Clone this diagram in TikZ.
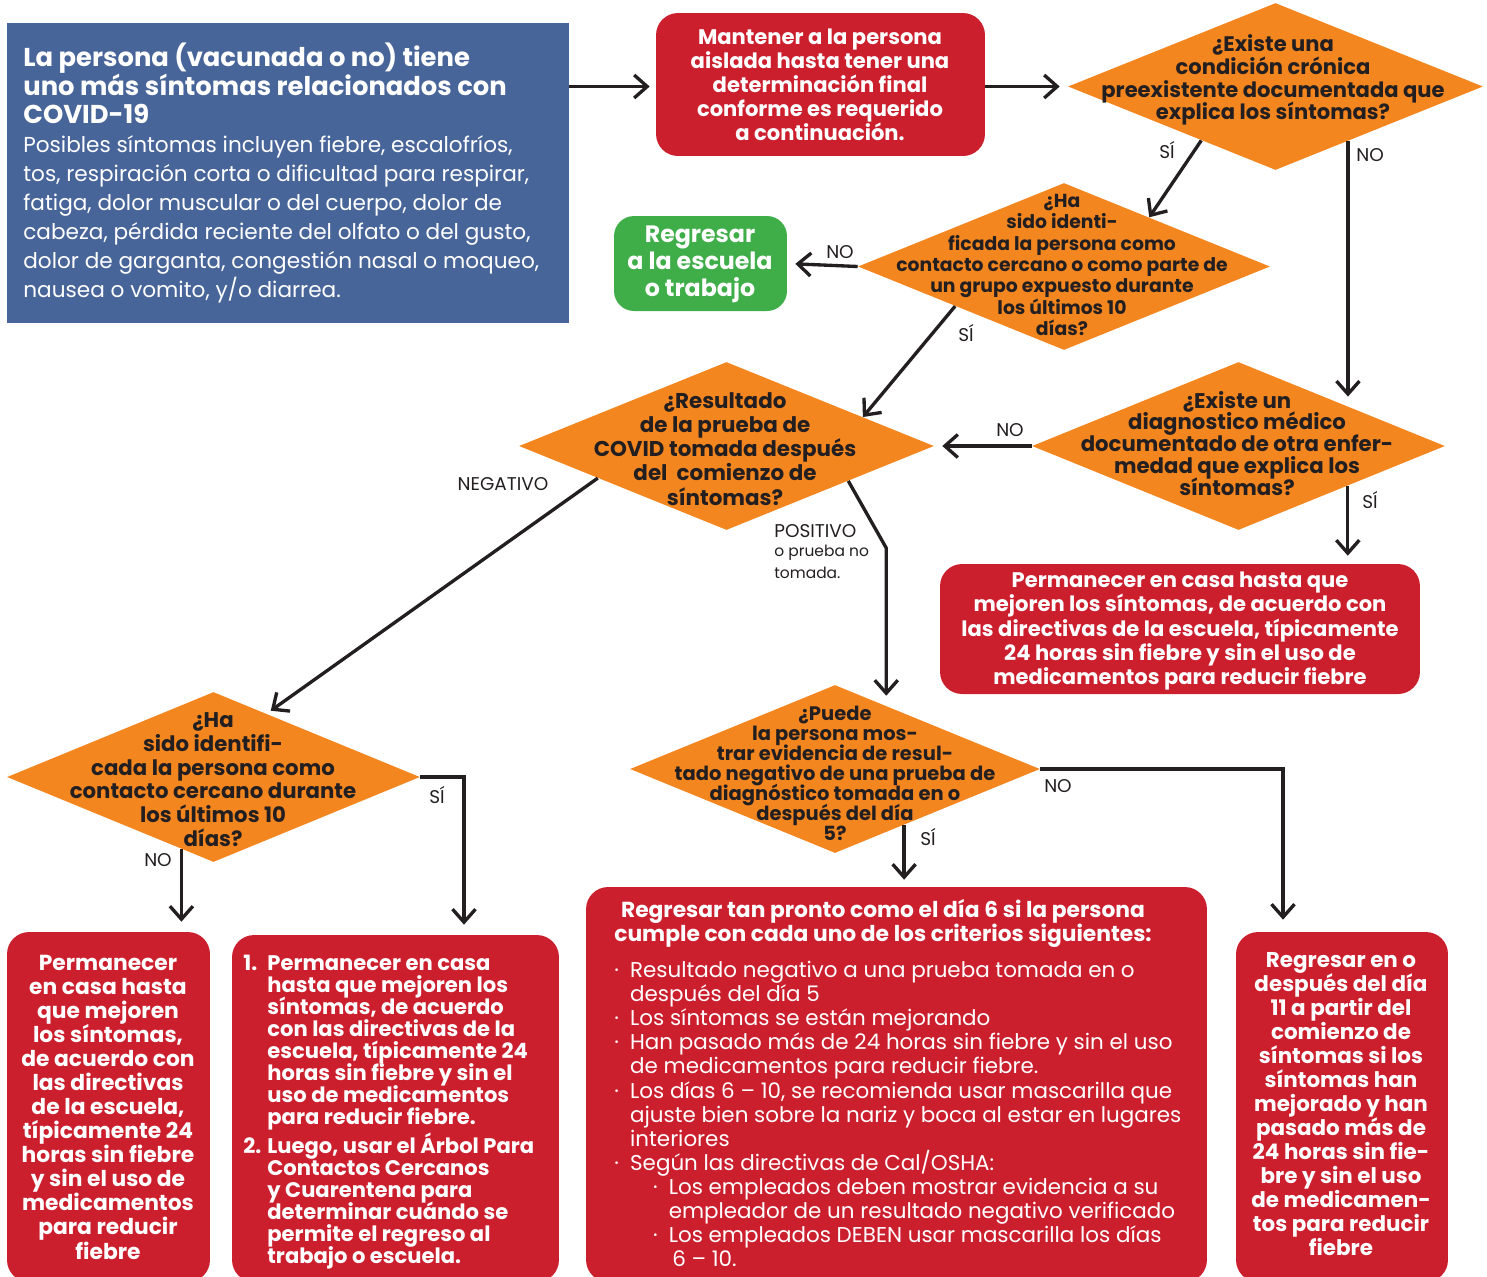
\documentclass[tikz,border=0pt]{standalone}
\usepackage{fontspec}
\setmainfont{Poppins}
\usetikzlibrary{arrows.meta,shapes.geometric}

\definecolor{cvblue}{RGB}{72,101,154}
\definecolor{cvred}{RGB}{204,31,46}
\definecolor{cvorange}{RGB}{244,134,32}
\definecolor{cvgreen}{RGB}{63,174,73}
\definecolor{ink}{RGB}{35,31,32}

\newcommand{\bul}{\makebox[9pt][l]{\textperiodcentered}}

\begin{document}
\begin{tikzpicture}[
    x=0.02cm, y=-0.02cm,
    every node/.style={inner sep=0pt, execute at begin node={\lineskiplimit=-10pt}},
    wtxt/.style={align=center, text=white},
    dtxt/.style={align=center, text=ink},
    redbox/.style={fill=cvred, rounded corners=0.44cm},
    dia/.style={diamond, fill=cvorange},
    arr/.style={draw=ink, line width=1.9pt, -{Straight Barb[length=2.6mm,width=4.6mm]}},
    lbl/.style={text=ink, font=\fontsize{10.5}{12}\selectfont}
]
\useasboundingbox (0,0) rectangle (1487,1276);

% Start box
\node[fill=cvblue, minimum width=11.24cm, minimum height=6cm] (start) at (288,173) {};
\node[anchor=north west, align=left, text=white, font=\bfseries\fontsize{14.7}{16}\selectfont] (starttitle) at (23,43)
    {La persona (vacunada o no) tiene\\uno más síntomas relacionados con\\COVID-19};
\node[anchor=north west, align=left, text=white, font=\fontsize{12.3}{16.5}\selectfont] (startbody) at (23,135)
    {Posibles síntomas incluyen fiebre, escalofríos,\\tos, respiración corta o dificultad para respirar,\\fatiga, dolor muscular o del cuerpo, dolor de\\cabeza, pérdida reciente del olfato o del gusto,\\dolor de garganta, congestión nasal o moqueo,\\nausea o vomito, y/o diarrea.};

% Isolate box
\node[redbox, minimum width=6.58cm, minimum height=2.86cm] (isolate) at (820.5,84.5) {};
\node[wtxt, font=\bfseries\fontsize{12}{13.7}\selectfont] (isolatet) at (820,85)
    {Mantener a la persona\\aislada hasta tener una\\determinación final\\conforme es requerido\\a continuación.};

% Questions
\node[dia, minimum width=8.3cm, minimum height=3.34cm] (chronic) at (1275.5,86.5) {};
\node[dtxt, font=\bfseries\fontsize{12}{13}\selectfont] (chronict) at (1273,80)
    {¿Existe una\\condición crónica\\preexistente documentada que\\explica los síntomas?};

\node[dia, minimum width=8.24cm, minimum height=3.34cm] (contact) at (1064,266.5) {};
\node[dtxt, font=\bfseries\fontsize{10.7}{12.2}\selectfont] (contactt) at (1062,265)
    {¿Ha\\sido identi-\\ficada la persona como\\contacto cercano o como parte de\\un grupo expuesto durante\\los últimos 10\\días?};

\node[fill=cvgreen, rounded corners=0.4cm, minimum width=3.46cm, minimum height=1.9cm] (back) at (700.5,263.5) {};
\node[wtxt, font=\bfseries\fontsize{13.5}{15.4}\selectfont] (backt) at (700,264)
    {Regresar\\a la escuela\\o trabajo};

\node[dia, minimum width=8.3cm, minimum height=3.36cm] (test) at (726.5,446) {};
\node[dtxt, font=\bfseries\fontsize{12.2}{13.7}\selectfont] (testt) at (725,449)
    {¿Resultado\\de la prueba de\\COVID tomada después\\del~ comienzo de\\síntomas?};

\node[dia, minimum width=8.26cm, minimum height=3.36cm] (diagnosis) at (1238.5,446) {};
\node[dtxt, font=\bfseries\fontsize{12.1}{12.5}\selectfont] (diagnosist) at (1237,443.5)
    {¿Existe un\\diagnostico médico\\documentado de otra enfer-\\medad que explica los\\síntomas?};

\node[redbox, minimum width=9.6cm, minimum height=2.6cm] (home) at (1180,629) {};
\node[wtxt, font=\bfseries\fontsize{12}{13.7}\selectfont] (homet) at (1180,631)
    {Permanecer en casa hasta que\\mejoren los síntomas, de acuerdo con\\las directivas de la escuela, típicamente\\24 horas sin fiebre y sin el uso de\\medicamentos para reducir fiebre};

\node[dia, minimum width=8.26cm, minimum height=3.4cm] (contactB) at (213.5,777) {};
\node[dtxt, font=\bfseries\fontsize{12.1}{13.5}\selectfont] (contactBt) at (213,779.5)
    {¿Ha\\sido identifi-\\cada la persona como\\contacto cercano durante\\los últimos 10\\días?};

\node[dia, minimum width=8.2cm, minimum height=3.36cm] (negtest) at (835,769) {};
\node[dtxt, font=\bfseries\fontsize{11.1}{11.4}\selectfont] (negtestt) at (835,773)
    {¿Puede\\la persona mos-\\trar evidencia de resul-\\tado negativo de una prueba de\\diagnóstico tomada en o\\después del día\\5?};

% Bottom boxes
\node[redbox, minimum width=4.06cm, minimum height=7cm] (homeA) at (108.5,1107) {};
\node[wtxt, font=\bfseries\fontsize{12.4}{13.7}\selectfont] (homeAt) at (108,1107)
    {Permanecer\\en casa hasta\\que mejoren\\los síntomas,\\de acuerdo con\\las directivas\\de la escuela,\\típicamente 24\\horas sin fiebre\\y sin el uso de\\medicamentos\\para reducir\\fiebre};

\node[redbox, minimum width=6.54cm, minimum height=6.94cm] (steps) at (395.5,1108.5) {};
\node[anchor=north west, align=left, text=white, font=\bfseries\fontsize{12}{12.5}\selectfont] (stepst) at (243,955)
    {\makebox[13.7pt][l]{1.}Permanecer en casa\\
     \hspace*{13.7pt}hasta que mejoren los\\
     \hspace*{13.7pt}síntomas, de acuerdo\\
     \hspace*{13.7pt}con las directivas de la\\
     \hspace*{13.7pt}escuela, típicamente 24\\
     \hspace*{13.7pt}horas sin fiebre y sin el\\
     \hspace*{13.7pt}uso de medicamentos\\
     \hspace*{13.7pt}para reducir fiebre.\\[4pt]
     \makebox[13.7pt][l]{2.}Luego, usar el Árbol Para\\
     \hspace*{13.7pt}Contactos Cercanos\\
     \hspace*{13.7pt}y Cuarentena para\\
     \hspace*{13.7pt}determinar cuándo se\\
     \hspace*{13.7pt}permite el regreso al\\
     \hspace*{13.7pt}trabajo o escuela.};

\node[redbox, minimum width=12.42cm, minimum height=7.9cm] (day6) at (896.5,1084.5) {};
\node[wtxt, font=\bfseries\fontsize{12.4}{13.7}\selectfont] (day6t) at (883,923)
    {Regresar tan pronto como el día 6 si la persona\\cumple con cada uno de los criterios siguientes:};
\node[anchor=north west, align=left, text=white, font=\fontsize{12.2}{13.7}\selectfont] (day6list) at (614,961)
    {\bul Resultado negativo a una prueba tomada en o\\
     \hspace*{9pt}después del día 5\\
     \bul Los síntomas se están mejorando\\
     \bul Han pasado más de 24 horas sin fiebre y sin el uso\\
     \hspace*{9pt}de medicamentos para reducir fiebre.\\
     \bul Los días 6 – 10, se recomienda usar mascarilla que\\
     \hspace*{9pt}ajuste bien sobre la nariz y boca al estar en lugares\\
     \hspace*{9pt}interiores\\
     \bul Según las directivas de Cal/OSHA:\\
     \hspace*{22pt}\bul Los empleados deben mostrar evidencia a su\\
     \hspace*{31pt}empleador de un resultado negativo verificado\\
     \hspace*{22pt}\bul Los empleados DEBEN usar mascarilla los días\\
     \hspace*{33pt}6 – 10.};

\node[redbox, minimum width=4.24cm, minimum height=7cm] (day11) at (1342,1107) {};
\node[wtxt, font=\bfseries\fontsize{12.2}{13.7}\selectfont] (day11t) at (1341,1104)
    {Regresar en o\\después del día\\11 a partir del\\comienzo de\\síntomas si los\\síntomas han\\mejorado y han\\pasado más de\\24 horas sin fie-\\bre y sin el uso\\de medicamen-\\tos para reducir\\fiebre};

% Connectors
\draw[arr, shorten >=0.12cm] (start.east |- chronic.west) -- (isolate.west |- chronic.west);
\draw[arr, shorten >=0.16cm] (isolate.east |- chronic.west) -- (chronic.west);
\draw[arr] (chronic.216) -- (contact.30);
\draw[arr] (chronic.-37) -- (chronic.-37 |- diagnosis.30);
\draw[arr, shorten >=0.16cm] (contact.west) -- (back.east);
\draw[arr] (contact.200) -- (test.12);
\draw[arr, shorten >=0.16cm] (diagnosis.west) -- (test.east);
\draw[arr, shorten >=0.16cm] (diagnosis.-20.2) -- (diagnosis.-20.2 |- home.north);
\draw[arr, shorten >=0.1cm] (test.194) -- (contactB.50);
\draw[arr, shorten >=0.2cm] (test.-16.5) -- (negtest.51 |- 0,548) -- (negtest.51);
\draw[arr, shorten >=0.2cm] (contactB.east) -| ([xshift=1.37cm]steps.north);
\draw[arr, shorten >=0.2cm] (contactB.246.4) -- (contactB.246.4 |- homeA.north);
\draw[arr, shorten >=0.14cm] (negtest.-39.5) -- (negtest.-39.5 |- day6.north);
\draw[arr, shorten >=0.24cm] (negtest.east) -| ([xshift=-1.18cm]day11.north);

% Labels
\node[lbl] (si1) at (1167,150) {SÍ};
\node[lbl] (no1) at (1370,155) {NO};
\node[lbl] (no2) at (840,252) {NO};
\node[lbl] (si2) at (966,333) {SÍ};
\node[lbl] (no3) at (1010,430) {NO};
\node[lbl] (si3) at (1370,500) {SÍ};
\node[lbl] (neg) at (503,484) {NEGATIVO};
\node[lbl, anchor=west] (pos) at (774,531) {POSITIVO};
\node[lbl, anchor=north west, align=left, font=\fontsize{8.8}{12.5}\selectfont] (posnote) at (774,545) {o prueba no\\tomada.};
\node[lbl] (si4) at (437,795) {SÍ};
\node[lbl] (no4) at (158,860) {NO};
\node[lbl] (si5) at (928,837) {SÍ};
\node[lbl] (no5) at (1058,786) {NO};

\end{tikzpicture}
\end{document}
